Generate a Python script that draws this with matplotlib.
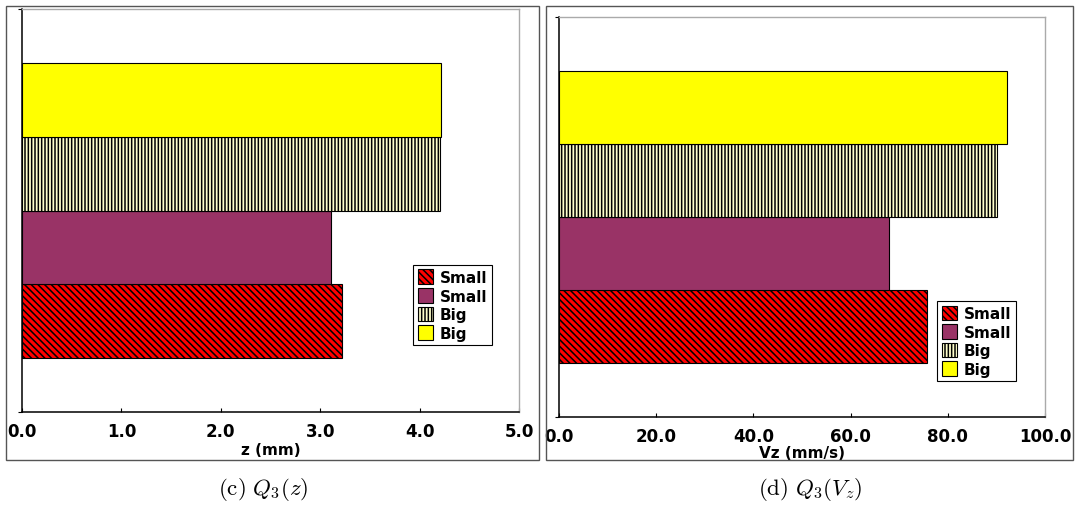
import matplotlib
matplotlib.use('Agg')
import matplotlib.pyplot as plt
from matplotlib.patches import Rectangle, Patch

plt.rcParams['mathtext.fontset'] = 'cm'
plt.rcParams['hatch.linewidth'] = 1.1

# data
labels = ['Small', 'Small', 'Big', 'Big']
z_vals = [3.22, 3.11, 4.21, 4.22]       # Q3(z) in mm
vz_vals = [75.7, 67.9, 90.1, 92.2]      # Q3(Vz) in mm/s
z_ticks = [0.0, 1.0, 2.0, 3.0, 4.0, 5.0]
vz_ticks = [0.0, 20.0, 40.0, 60.0, 80.0, 100.0]

# bar styles (bottom to top)
faces = ['#FF0000', '#993366', '#FFFFCC', '#FFFF00']
hatches = ['\\\\\\\\\\', None, '|||||', None]

W, H = 1075, 510
fig = plt.figure(figsize=(W / 100, H / 100), dpi=100)

def px(x0, y0, x1, y1):
    return [x0 / W, 1 - y1 / H, (x1 - x0) / W, (y1 - y0) / H]

def draw(ax, vals, ticks, xlabel, leg_anchor, lpad):
    pos = range(len(vals))
    for i, v in enumerate(vals):
        ax.barh(i, v, height=1.0, color=faces[i], hatch=hatches[i],
                edgecolor='black', linewidth=0.8)
    ax.set_ylim(-1.24, 4.24)
    ax.set_xlim(ticks[0], ticks[-1])
    ax.set_xticks(ticks)
    ax.set_xticklabels(['%.1f' % t for t in ticks], fontweight='bold', fontsize=12)
    ax.tick_params(axis='x', direction='in', length=3, pad=7)
    ax.set_yticks([-1.24, 4.24])
    ax.set_yticklabels([])
    ax.tick_params(axis='y', direction='out', length=3)
    ax.set_xlabel(xlabel, fontweight='bold', fontsize=11, labelpad=lpad)
    for s in ['left', 'bottom']:
        ax.spines[s].set_color('black')
        ax.spines[s].set_linewidth(1.1)
    for s in ['top', 'right']:
        ax.spines[s].set_color('#aaaaaa')
        ax.spines[s].set_linewidth(1.0)
    handles = [Patch(facecolor=faces[i], hatch=hatches[i], edgecolor='black',
                     linewidth=0.8, label=labels[i]) for i in pos]
    leg = ax.legend(handles=handles, loc='upper left', bbox_to_anchor=leg_anchor,
                    fancybox=False, edgecolor='black', framealpha=1,
                    prop={'weight': 'bold', 'size': 11}, handlelength=1.0,
                    handleheight=1.1, handletextpad=0.45, labelspacing=0.2,
                    borderpad=0.3, borderaxespad=0)
    leg.get_frame().set_linewidth(0.8)

ax1 = fig.add_axes(px(22, 10, 519, 413))
draw(ax1, z_vals, z_ticks, 'z (mm)', (0.787, 0.365), 2)
ax2 = fig.add_axes(px(559, 18, 1045, 418))
draw(ax2, vz_vals, vz_ticks, 'Vz (mm/s)', (0.778, 0.29), 0)

# subfigure frames
for x0, x1 in [(6, 539), (546, 1073)]:
    fig.patches.append(Rectangle((x0 / W, 1 - 461 / H), (x1 - x0) / W, (461 - 7) / H,
                                 transform=fig.transFigure, fill=False,
                                 edgecolor='#555555', linewidth=1.0))

# captions
fig.text(263 / W, 1 - 490 / H, r'$\mathrm{(c)}\ Q_3(z)$', ha='center', va='center', fontsize=16.5)
fig.text(810 / W, 1 - 490 / H, r'$\mathrm{(d)}\ Q_3(V_z)$', ha='center', va='center', fontsize=16.5)

fig.savefig('out.png', dpi=100)
